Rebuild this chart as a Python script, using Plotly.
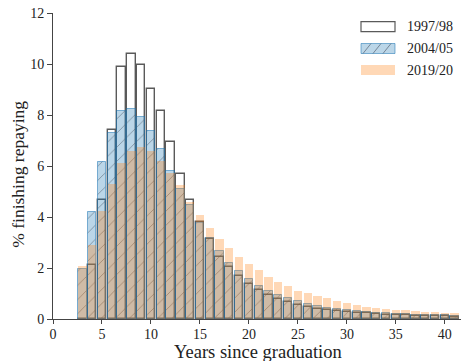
import plotly.graph_objects as go

years = list(range(3, 42))

y_1997 = [0, 2.13, 4.68, 7.42, 9.9, 10.4, 9.97, 9.03, 8.17, 6.94, 5.69, 4.65, 3.79, 3.14,
          2.45, 2.04, 1.70, 1.37, 1.15, 0.95, 0.78, 0.67, 0.56, 0.46, 0.39, 0.34, 0.30,
          0.27, 0.25, 0.22, 0.20, 0.17, 0.16, 0.14, 0.13, 0.12, 0.11, 0.10, 0.09]
y_2004 = [1.98, 4.18, 6.14, 7.3, 8.14, 8.23, 7.92, 7.38, 6.67, 5.8, 5.08, 4.48, 3.75, 3.17,
          2.65, 2.2, 1.87, 1.57, 1.31, 1.11, 0.95, 0.82, 0.69, 0.6, 0.52, 0.45, 0.40,
          0.35, 0.32, 0.28, 0.25, 0.23, 0.21, 0.19, 0.17, 0.16, 0.15, 0.14, 0.13]
y_2019 = [2.06, 2.89, 4.22, 5.3, 6.12, 6.6, 6.74, 6.57, 6.18, 5.73, 5.26, 4.6, 4.09, 3.57,
          3.14, 2.78, 2.43, 2.14, 1.91, 1.65, 1.44, 1.28, 1.11, 1.02, 0.89, 0.81, 0.72,
          0.63, 0.56, 0.48, 0.44, 0.40, 0.36, 0.34, 0.30, 0.29, 0.26, 0.25, 0.25]

labels = ["1997/98", "2004/05", "2019/20"]
x_ticks = [0, 5, 10, 15, 20, 25, 30, 35, 40]
y_ticks = [0, 2, 4, 6, 8, 10, 12]
x_title = "Years since graduation"
y_title = "% finishing repaying"

FONT = "Liberation Serif, Times New Roman, serif"
BAR_W = 0.85
BLUE_FILL = "rgba(31,119,180,0.30)"
BLUE_EDGE = "rgba(31,119,180,0.55)"
HATCH = "rgba(70,80,95,0.6)"
ORANGE_FILL = "rgba(255,127,14,0.30)"
GREY_EDGE = "#5a5a5a"

fig = go.Figure()
fig.add_trace(go.Bar(x=years, y=y_1997, width=BAR_W, name=labels[0],
                     marker=dict(color="rgba(0,0,0,0)", line=dict(color=GREY_EDGE, width=1.4))))
fig.add_trace(go.Bar(x=years, y=y_2004, width=BAR_W, name=labels[1],
                     marker=dict(color=BLUE_FILL, line=dict(color=BLUE_EDGE, width=1),
                                 pattern=dict(shape="/", fgcolor=HATCH,
                                              bgcolor=BLUE_FILL, size=10, solidity=0.08,
                                              fillmode="replace"))))
fig.add_trace(go.Bar(x=years, y=y_2019, width=BAR_W, name=labels[2],
                     marker=dict(color=ORANGE_FILL, line=dict(width=0))))

# legend and axis titles placed in paper coordinates
PL, PW = 53, 408
def px(x):
    return (x - PL) / PW
def py(y):
    return (319.3 - y) / 306.0

centers = [27, 48.8, 70.3]
shapes = []
annotations = []
styles = [dict(fillcolor="white", line=dict(color=GREY_EDGE, width=1.2)),
          dict(fillcolor=BLUE_FILL, line=dict(color=BLUE_EDGE, width=1)),
          dict(fillcolor=ORANGE_FILL, line=dict(width=0))]
for c, st, lab in zip(centers, styles, labels):
    shapes.append(dict(type="rect", xref="paper", yref="paper",
                       x0=px(361), x1=px(395), y0=py(c + 5), y1=py(c - 5), **st))
    annotations.append(dict(text=lab, xref="paper", yref="paper", x=px(405), y=py(c),
                            xanchor="left", yanchor="middle", showarrow=False,
                            font=dict(family=FONT, size=14, color="#222")))
for x0 in [363, 373, 383]:
    shapes.append(dict(type="line", xref="paper", yref="paper",
                       x0=px(x0), y0=py(centers[1] + 5), x1=px(x0 + 8), y1=py(centers[1] - 5),
                       line=dict(color=HATCH, width=1)))

annotations.append(dict(text=x_title, xref="paper", yref="paper", x=px(258), y=py(352.5),
                        xanchor="center", yanchor="middle", showarrow=False,
                        font=dict(family=FONT, size=18.5, color="#222")))
annotations.append(dict(text=y_title, xref="paper", yref="paper", x=px(18), y=py(175),
                        xanchor="center", yanchor="middle", showarrow=False, textangle=-90,
                        font=dict(family=FONT, size=17.5, color="#222")))

fig.update_layout(
    width=461, height=361,
    margin=dict(l=53, r=0, t=13, b=42),
    barmode="overlay", bargap=0,
    plot_bgcolor="white", paper_bgcolor="white",
    showlegend=False,
    font=dict(family=FONT, size=14, color="#222"),
    shapes=shapes, annotations=annotations,
    xaxis=dict(range=[0, 41.65], tickvals=x_ticks, ticktext=[str(v) for v in x_ticks],
               showgrid=False, zeroline=False, showline=True, linecolor="#444", linewidth=1,
               ticks="outside", ticklen=4, tickcolor="#444", ticklabelstandoff=-2,
               tickfont=dict(family=FONT, size=14, color="#222")),
    yaxis=dict(range=[0, 12], tickvals=y_ticks, ticktext=[str(v) for v in y_ticks],
               showgrid=False, zeroline=False, showline=True, linecolor="#444", linewidth=1,
               ticks="outside", ticklen=5, tickcolor="#444",
               tickfont=dict(family=FONT, size=14, color="#222")),
)

fig.write_html("out.html", config={"displayModeBar": False},
               post_script="document.body.style.margin='0px';")
